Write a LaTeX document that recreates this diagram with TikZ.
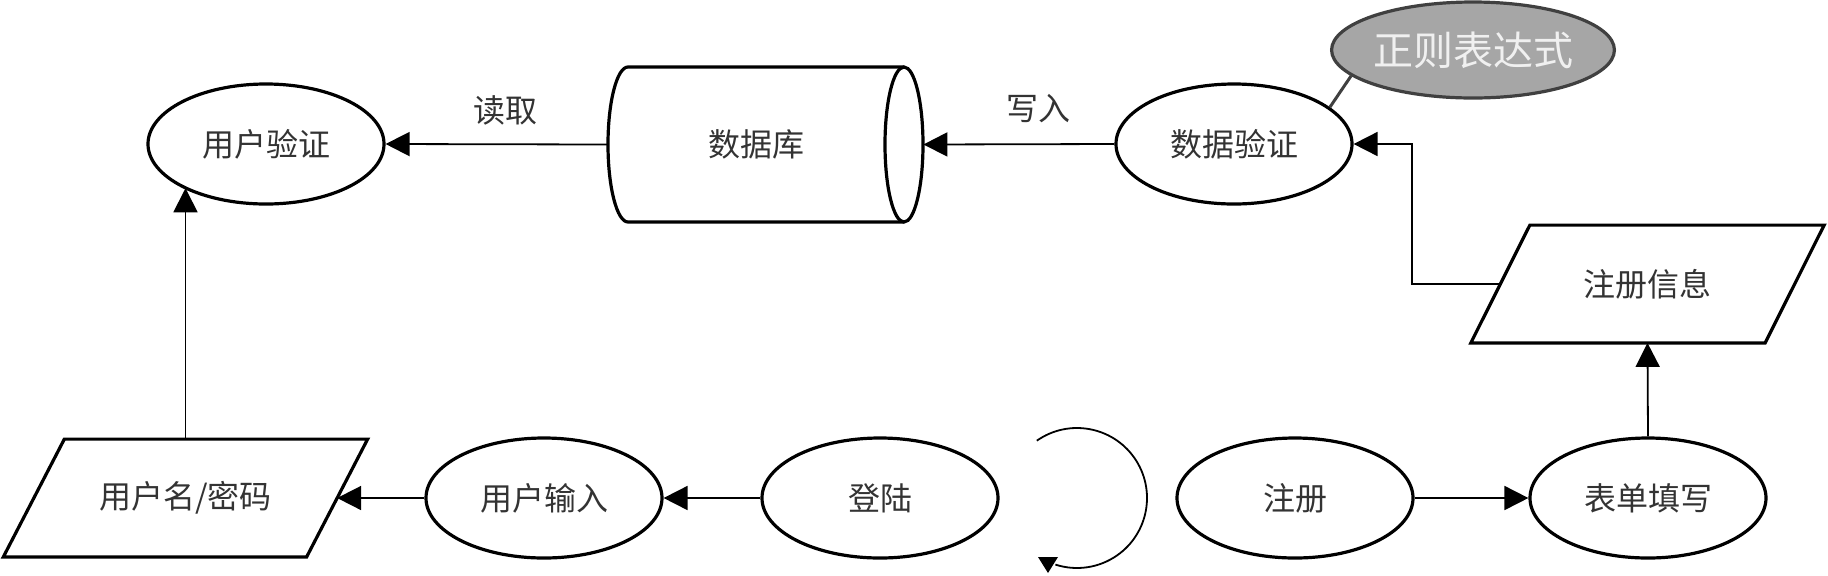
\documentclass[tikz,border=0pt]{standalone}
\usepackage{fontspec}
\newfontfamily\cjk{Noto Sans CJK SC}
\usetikzlibrary{shapes.geometric,arrows.meta,calc}
\begin{document}
\begin{tikzpicture}[x=0.5pt,y=0.5pt,
  every node/.style={font=\cjk\fontsize{16pt}{16pt}\selectfont, text=black!80},
  ell/.style={ellipse, draw, line width=1.6pt, inner sep=0pt, minimum width=118pt, minimum height=60pt},
  iobox/.style={inner sep=0pt, minimum height=58.5pt},
  outline/.style={line width=1.6pt, line join=miter},
  arr/.style={line width=0.9pt, -{Triangle[length=12pt,width=12pt]}},
  lab/.style={inner sep=0pt}
]
\useasboundingbox (0,0) rectangle (1828,-575);

% nodes
\node[ell] (uv) at (266,-144) {用户验证};
\node[inner sep=0pt, minimum width=157.5pt, minimum height=77.5pt] (db) at (765.5,-144.5) {};
\node (dbt) at (756,-144) {数据库};
\draw[outline] (904,-67) -- (628,-67) arc[start angle=90, end angle=270, x radius=20, y radius=77.5] -- (904,-222);
\draw[outline] (904,-144.5) ellipse [x radius=19, y radius=77.5];

\node[ell] (dv) at (1234,-144) {数据验证};
\node[ell, fill=gray!70, draw=black!75, minimum width=121.5pt, minimum height=48pt,
      text=white!94!black, font=\cjk\fontsize{20pt}{20pt}\selectfont] (re) at (1473,-50) {正则表达式};

\node[iobox, minimum width=146.75pt] (ri) at (1647.5,-284) {注册信息};
\draw[outline] ($(ri.north west)+(29.5,0)$) -- ($(ri.north east)+(29.5,0)$)
  -- ($(ri.south east)+(-29.5,0)$) -- ($(ri.south west)+(-29.5,0)$) -- cycle;

\node[iobox, minimum width=151.25pt] (pw) at (185.5,-498) {用户名/密码};
\draw[outline] ($(pw.north west)+(30.5,0)$) -- ($(pw.north east)+(30.5,0)$)
  -- ($(pw.south east)+(-30.5,0)$) -- ($(pw.south west)+(-30.5,0)$) -- cycle;

\node[ell] (ui) at (544,-498) {用户输入};
\node[ell] (login) at (880,-498) {登陆};
\node[ell] (reg) at (1295,-498) {注册};
\node[ell] (form) at (1648,-498) {表单填写};

% connectors
\draw[arr] (db.west) -- node[lab, pos=0.46, yshift=17pt] {读取} (uv.east);
\draw[arr] (dv.west) -- node[lab, pos=0.4, yshift=18pt] {写入} (db.east);
\draw[arr] (ri.west) -- ++(-88.5,0) |- (dv.east);
\draw[arr] (pw.north) -- (pw.north |- uv.-152);
\draw[arr] (login.west) -- (ui.east);
\draw[arr] (ui.west) -- (pw.east);
\draw[arr] (reg.east) -- (form.west);
\draw[arr] (form.north) -- (ri.south);
\draw[line width=1.5pt, draw=black!75] (dv.21) -- (re.192);

% rotation mark
\draw[line width=0.9pt] (1077,-498) ++(125:70) arc[start angle=125, end angle=-108, radius=70];
\fill (1038,-557) -- (1058,-557) -- (1048,-573) -- cycle;
\end{tikzpicture}
\end{document}
